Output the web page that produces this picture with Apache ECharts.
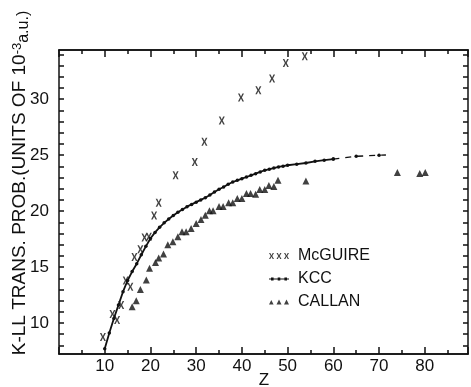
<!DOCTYPE html>
<html>
<head>
<meta charset="utf-8">
<script src="https://cdn.jsdelivr.net/npm/echarts@6/dist/echarts.min.js"></script>
<style>
  html, body { margin: 0; padding: 0; background: #fff; }
  #chart { width: 471px; height: 387px; }
</style>
</head>
<body>
<div id="chart"></div>
<script>
// ---------- data ----------
const xTickLabels = [10, 20, 30, 40, 50, 60, 70, 80];
const yTickLabels = [10, 15, 20, 25, 30];
const yTicks = [8, 9, 10, 11, 12, 13, 14, 15, 16, 17, 18, 19, 20, 21, 22, 23, 24, 25, 26, 27, 28, 29, 30, 31, 32, 33, 34];

const mcguire = [
  [9.6, 8.75], [11.7, 10.8], [12.7, 10.27], [13.6, 11.6], [14.6, 13.8], [15.6, 13.24],
  [16.5, 15.9], [17.8, 16.6], [18.7, 17.65], [19.65, 17.7], [20.8, 19.6], [21.8, 20.74],
  [25.5, 23.2], [29.7, 24.4], [31.8, 26.2], [35.6, 28.1], [39.8, 30.15], [43.6, 30.8],
  [46.6, 31.85], [49.6, 33.24], [53.75, 33.84]
];

const kccSolid = [
  [10, 7.7], [11, 9.1], [12, 10.4], [13, 11.6], [14, 12.8], [15, 13.8], [16, 14.6],
  [17, 15.3], [18, 16.1], [19, 16.85], [20, 17.55], [21, 18.1], [22, 18.55], [23, 18.95],
  [24, 19.3], [25, 19.6], [26, 19.9], [27, 20.15], [28, 20.4], [29, 20.6], [30, 20.8],
  [31, 21.0], [32, 21.2], [33, 21.45], [34, 21.7], [35, 21.95], [36, 22.15], [37, 22.4],
  [38, 22.6], [39, 22.75], [40, 22.9], [41, 23.05], [42, 23.2], [43, 23.35], [44, 23.5],
  [45, 23.65], [46, 23.75], [47, 23.85], [48, 23.95], [49, 24.02], [50, 24.1], [52, 24.2],
  [54, 24.3], [56, 24.45], [58, 24.55], [60, 24.65]
];
const kccDashed = [[60, 24.65], [65, 24.9], [70, 25.0], [71.5, 25.02]];

const callan = [
  [16.0, 11.46], [16.9, 12.0], [17.8, 13.0], [19.1, 13.84], [19.8, 14.9], [21.1, 15.4],
  [21.8, 15.8], [22.85, 16.16], [23.8, 17.0], [24.9, 17.26], [26.0, 17.7], [26.9, 18.15],
  [27.8, 18.15], [28.9, 18.45], [30.0, 18.9], [31.05, 19.25], [32.0, 19.64], [32.9, 20.03],
  [33.7, 20.03], [35.0, 20.42], [35.9, 20.42], [37.1, 20.74], [38.0, 20.74], [39.0, 21.13],
  [40.0, 21.13], [41.0, 21.58], [41.9, 21.58], [43.0, 21.5], [43.9, 21.94], [45.0, 21.94],
  [45.9, 22.3], [47.0, 22.2], [47.9, 22.77], [54.0, 22.7], [74.0, 23.45], [78.9, 23.37],
  [80.1, 23.45]
];

const seriesNames = ['McGUIRE', 'KCC', 'CALLAN'];

// ---------- styling ----------
const INK = '#111';
const FONT = 'Liberation Sans';
const X_MIN = 0, X_MAX = 89.45;
const Y_MIN = 7.23, Y_MAX = 34.4;

function xShape(ox, w, h, t) {
  const c = ox + w / 2;
  return 'M' + ox + ',0 L' + (ox + t) + ',0 L' + c + ',' + (h / 2 - t * 0.6) +
    ' L' + (ox + w - t) + ',0 L' + (ox + w) + ',0 L' + (c + t * 0.6) + ',' + (h / 2) +
    ' L' + (ox + w) + ',' + h + ' L' + (ox + w - t) + ',' + h + ' L' + c + ',' + (h / 2 + t * 0.6) +
    ' L' + (ox + t) + ',' + h + ' L' + ox + ',' + h + ' L' + (c - t * 0.6) + ',' + (h / 2) + ' Z ';
}
const X_SYMBOL = 'path://' + xShape(0, 10, 12, 2.6);
const X_ICON = 'path://' + xShape(0, 5, 6, 1.3) + xShape(7.5, 5, 6, 1.3) + xShape(15, 5, 6, 1.3);
const KCC_ICON = 'path://M0,2.6 L20,2.6 L20,3.4 L0,3.4 Z M2,1.6 L4.6,1.6 L4.6,4.4 L2,4.4 Z M8.7,1.6 L11.3,1.6 L11.3,4.4 L8.7,4.4 Z M15.4,1.6 L18,1.6 L18,4.4 L15.4,4.4 Z';
const TRI_ICON = 'path://M0,6 L2.3,1.5 L4.6,6 Z M7.5,6 L10,0.8 L12.5,6 Z M15,6 L17.5,0.8 L20,6 Z';

function xAxisDef(pos, interval, len, showLabels) {
  return {
    type: 'value', position: pos, min: X_MIN, max: X_MAX, interval: interval,
    axisLine: { show: true, onZero: false, lineStyle: { color: INK, width: 1.5 } },
    axisTick: { show: true, inside: true, length: len, lineStyle: { color: INK, width: 1.5 } },
    axisLabel: showLabels ? {
      show: true, margin: 4, color: INK, fontSize: 17, fontFamily: FONT,
      formatter: v => (xTickLabels.indexOf(Math.round(v * 100) / 100) >= 0 ? String(v) : '')
    } : { show: false },
    splitLine: { show: false }
  };
}
function yAxisDef(pos, labels) {
  return {
    type: 'value', position: pos, min: Y_MIN, max: Y_MAX,
    axisLine: { show: true, onZero: false, lineStyle: { color: INK, width: 1.5 } },
    axisTick: { show: true, inside: true, length: 5, customValues: yTicks, lineStyle: { color: INK, width: 1.5 } },
    axisLabel: labels ? {
      show: true, customValues: labels, margin: 10, color: INK, fontSize: 17, fontFamily: FONT
    } : { show: false },
    splitLine: { show: false }
  };
}

const chart = echarts.init(document.getElementById('chart'), null, { renderer: 'canvas' });
chart.setOption({
  animation: false,
  grid: { left: 59, right: 1, top: 50, bottom: 33 },
  xAxis: [
    xAxisDef('bottom', 10, 7, true),
    xAxisDef('bottom', 5, 4, false),
    xAxisDef('top', 10, 7, false),
    xAxisDef('top', 5, 4, false)
  ],
  yAxis: [
    yAxisDef('left', yTickLabels),
    yAxisDef('right', null)
  ],
  legend: {
    orient: 'vertical', left: 264, top: 243,
    itemWidth: 20, itemHeight: 6, itemGap: 7,
    selectedMode: false,
    textStyle: { color: INK, fontSize: 16, fontFamily: FONT, padding: [0, 0, 0, 4] },
    data: [
      { name: seriesNames[0], icon: X_ICON },
      { name: seriesNames[1], icon: KCC_ICON },
      { name: seriesNames[2], icon: TRI_ICON }
    ]
  },
  series: [
    {
      name: seriesNames[0], type: 'scatter', data: mcguire,
      symbol: X_SYMBOL, symbolSize: [6, 8],
      itemStyle: { color: INK }
    },
    {
      name: seriesNames[1], type: 'line', data: kccSolid,
      symbol: 'circle', symbolSize: 3.5, showSymbol: true,
      lineStyle: { color: INK, width: 1.8 }, itemStyle: { color: INK }
    },
    {
      name: seriesNames[1], type: 'line',
      data: kccDashed.map((p, i) => i === kccDashed.length - 1 ? { value: p, symbol: 'none' } : p),
      symbol: 'circle', symbolSize: 3.5, showSymbol: true,
      lineStyle: { color: INK, width: 1.4, type: [6, 6] }, itemStyle: { color: INK }
    },
    {
      name: seriesNames[2], type: 'scatter', data: callan,
      symbol: 'triangle', symbolSize: [7, 7],
      itemStyle: { color: INK }
    }
  ],
  graphic: [
    {
      type: 'text', x: 20, y: 183, rotation: Math.PI / 2,
      style: {
        text: '{a|K-LL TRANS. PROB.(UNITS OF 10}{s|-3}{b|a.u.)}',
        align: 'center', verticalAlign: 'middle',
        fill: INK,
        rich: {
          a: { fontSize: 19, fontFamily: FONT, fill: INK, verticalAlign: 'bottom' },
          s: { fontSize: 13, fontFamily: FONT, fill: INK, verticalAlign: 'top' },
          b: { fontSize: 16, fontFamily: FONT, fill: INK, verticalAlign: 'bottom', padding: [0, 0, -2, 0] }
        }
      }
    },
    {
      type: 'text', x: 264, y: 380,
      style: { text: 'Z', fontSize: 17, fontFamily: FONT, fill: INK, align: 'center', verticalAlign: 'middle' }
    }
  ]
});
</script>
</body>
</html>
